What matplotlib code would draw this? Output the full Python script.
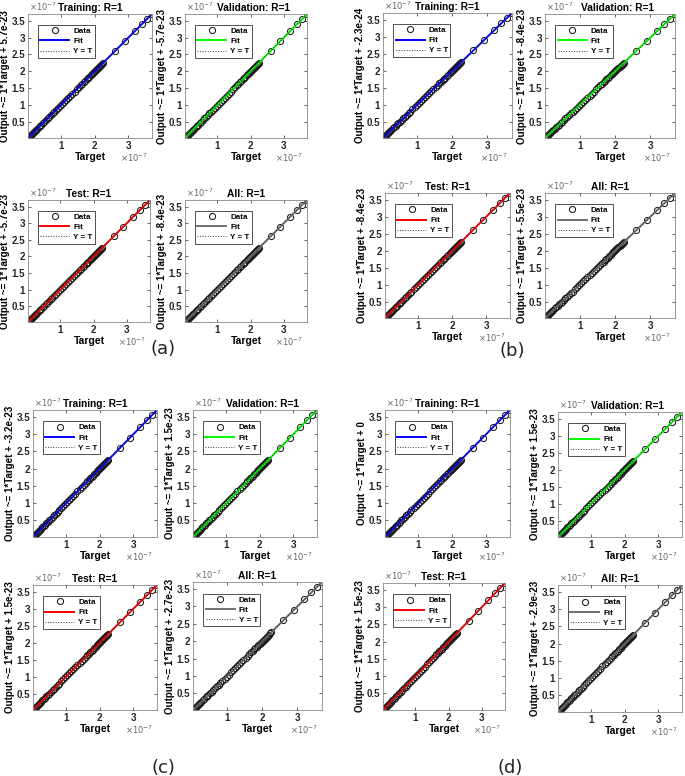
import numpy as np
import matplotlib
matplotlib.use('Agg')
from matplotlib import pyplot as plt
from matplotlib.ticker import FuncFormatter
from matplotlib.lines import Line2D

plt.rcParams['font.family'] = ['Liberation Sans', 'DejaVu Sans']

# targets (units of 1e-7), outputs equal targets (R=1)
target = [0.02, 0.04, 0.06, 0.08, 0.10, 0.13, 0.16, 0.19, 0.22, 0.26,
          0.30, 0.34, 0.38, 0.42, 0.46, 0.50, 0.55, 0.60, 0.65, 0.70,
          0.75, 0.80, 0.86, 0.92, 0.98, 1.04, 1.10, 1.16, 1.22, 1.28,
          1.34, 1.40, 1.46, 1.52, 1.58, 1.63, 1.68, 1.72, 1.76, 1.80,
          1.84, 1.88, 1.92, 1.95, 1.98, 2.01, 2.04, 2.07, 2.10, 2.13,
          2.16, 2.19, 2.22, 2.25, 2.60, 2.90, 3.20, 3.40, 3.55, 3.70]
output = list(target)

titles = ['Training', 'Validation', 'Test', 'All']
r_values = ['1', '1', '1', '1']
fit_colors = ['#0000ff', '#00ff00', '#ff0000', '#707070']

panel_names = ['(a)', '(b)', '(c)', '(d)']
# intercepts of the fitted line, one list per panel (Training, Validation, Test, All)
intercepts = [
    ['5.7e-23', '-5.7e-23', '-5.7e-23', '-8.4e-23'],
    ['-2.3e-24', '-8.4e-23', '-8.4e-23', '-5.5e-23'],
    ['-3.2e-23', '1.5e-23', '1.5e-23', '-2.7e-23'],
    ['0', '1.5e-23', '1.5e-23', '-2.9e-23'],
]

W, H = 685, 776
# axes boxes in pixels: left, top, right, bottom
boxes = [
    [(28, 14, 152, 138), (185, 14, 307, 138), (28, 200, 150, 322), (185, 200, 307, 322)],
    [(383, 13, 512, 138), (545, 14, 675, 138), (385, 193, 510, 318), (545, 193, 675, 318)],
    [(33, 410, 157, 537), (193, 410, 317, 537), (33, 585, 157, 710), (193, 582, 322, 710)],
    [(385, 410, 510, 537), (558, 412, 682, 537), (383, 583, 505, 710), (558, 585, 682, 712)],
]
title_x = [0.5, 0.56, 0.5, 0.5]
label_pos = [(163, 349), (512, 351), (163, 768), (510, 768)]

fig = plt.figure(figsize=(W / 100, H / 100), dpi=100)

x = np.array(target) * 1e-7
y = np.array(output) * 1e-7
xr = np.array([x.min(), x.max()])

sci = FuncFormatter(lambda v, pos: '%g' % round(v * 1e7, 4))

for p in range(4):
    for k in range(4):
        l, t, r, b = boxes[p][k]
        ax = fig.add_axes([l / W, 1 - b / H, (r - l) / W, (b - t) / H])
        b0 = float(intercepts[p][k])
        ax.plot(x, y, 'o', mfc='none', mec='#1a1a1a', ms=4.4, mew=0.75)
        ax.plot(xr, 1.0 * xr + b0, '-', color=fit_colors[k], lw=1.4)
        ax.plot(xr, xr, ':', color='#333333', lw=0.7)
        ax.set_xlim(x.min(), x.max())
        ax.set_ylim(y.min(), y.max())
        ax.set_xticks(np.array([1, 2, 3]) * 1e-7)
        ax.set_yticks(np.array([0.5, 1, 1.5, 2, 2.5, 3, 3.5]) * 1e-7)
        ax.xaxis.set_major_formatter(sci)
        ax.yaxis.set_major_formatter(sci)
        ax.tick_params(direction='in', top=True, right=True, length=2.5,
                       width=0.5, labelsize=7, pad=2, colors='#262626')
        for lab in ax.get_xticklabels() + ax.get_yticklabels():
            lab.set_fontweight('bold')
        for s in ax.spines.values():
            s.set_color('#888888')
            s.set_linewidth(0.6)
        # exponent labels, placed as in MATLAB
        ax.annotate(r'$\times10^{-7}$', (0, 1), xycoords='axes fraction',
                    xytext=(1, 0.5), textcoords='offset points', ha='left', va='bottom',
                    fontsize=6, color='#666666')
        ax.annotate(r'$\times10^{-7}$', (1, 0), xycoords='axes fraction',
                    xytext=(-3, -10), textcoords='offset points', ha='right', va='top',
                    fontsize=6, color='#666666')
        ax.set_title(titles[k] + ': R=' + r_values[k], fontsize=7.3,
                     fontweight='bold', pad=2, x=title_x[k])
        ax.set_xlabel('Target', fontsize=7.5, fontweight='bold', labelpad=1)
        ax.set_ylabel('Output ~= 1*Target + ' + intercepts[p][k], fontsize=7,
                      fontweight='bold', labelpad=1)
        handles = [Line2D([], [], ls='none', marker='o', mfc='none', mec='#1a1a1a', ms=4.4, mew=0.75),
                   Line2D([], [], color=fit_colors[k], lw=1.4),
                   Line2D([], [], color='#333333', ls=':', lw=0.7)]
        leg = ax.legend(handles, ['Data', 'Fit', 'Y = T'], loc='upper left',
                        bbox_to_anchor=(0.08, 0.91), prop={'size': 5.8, 'weight': 'bold'},
                        handlelength=3.6, handletextpad=0.5, labelspacing=0.3,
                        borderpad=0.3, fancybox=False, framealpha=1, borderaxespad=0)
        leg.get_frame().set_edgecolor('#333333')
        leg.get_frame().set_linewidth(0.6)
    fig.text(label_pos[p][0] / W, 1 - label_pos[p][1] / H, panel_names[p],
             fontsize=13, ha='center', va='center', color='#222222', family='DejaVu Sans')

plt.savefig('out.png', dpi=100)
